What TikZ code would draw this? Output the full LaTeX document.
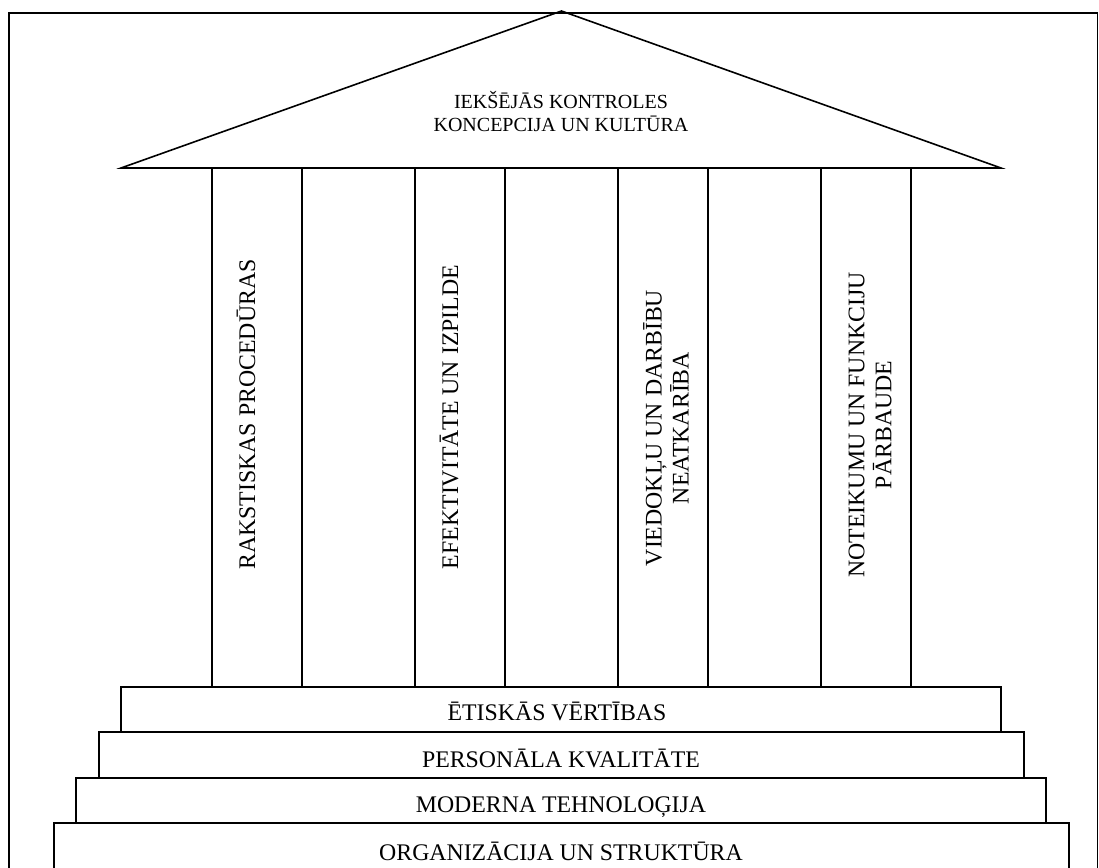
\documentclass[tikz,border=0pt]{standalone}
\usepackage{fontspec}
\setmainfont{Liberation Serif}
\begin{document}
\begin{tikzpicture}[x=1pt,y=-1pt,line width=1.6pt,
  stepbox/.style={draw,rectangle,inner sep=0pt},
  colbox/.style={draw,rectangle,inner sep=0pt,minimum width=90pt,minimum height=519pt},
  bigtext/.style={inner sep=0pt,font=\fontsize{23.8}{27}\selectfont},
  rooftext/.style={inner sep=0pt,align=center,font=\fontsize{20}{23}\selectfont}]
\useasboundingbox (0,0) rectangle (1099,867);
% outer frame
\coordinate (fbl) at (9,900);
\coordinate (ftl) at (9,13);
\coordinate (ftr) at (1097.5,13);
\coordinate (fbr) at (1097.5,900);
\draw (fbl) -- (ftl) -- (ftr) -- (fbr);
% columns
\node[colbox] (c1) at (257,427.5) {};
\node[colbox] (c2) at (460,427.5) {};
\node[colbox] (c3) at (663,427.5) {};
\node[colbox] (c4) at (866,427.5) {};
% roof
\coordinate (rl) at (121,168);
\coordinate (apex) at (561.5,11);
\coordinate (rr) at (1001,168);
\draw[line join=miter] (rl) -- (apex) -- (rr) -- cycle;
\node[rooftext,anchor=base] (rt) at (561,131) {IEKŠĒJĀS KONTROLES\\KONCEPCIJA UN KULTŪRA};
% column texts
\node[bigtext,rotate=90,anchor=base] (ct1) at (255,414.5) {RAKSTISKAS PROCEDŪRAS};
\node[bigtext,rotate=90,anchor=base] (ct2) at (458,417) {EFEKTIVITĀTE UN IZPILDE};
\node[bigtext,rotate=90,align=center] (ct3) at (666,428) {VIEDOKĻU UN DARBĪBU\\NEATKARĪBA};
\node[bigtext,rotate=90,align=center] (ct4) at (870,425) {NOTEIKUMU UN FUNKCIJU\\PĀRBAUDE};
% steps
\node[stepbox,minimum width=880pt,minimum height=45pt] (s1) at (561,709.5) {};
\node[stepbox,minimum width=925pt,minimum height=46pt] (s2) at (561.5,755) {};
\node[stepbox,minimum width=970pt,minimum height=45pt] (s3) at (561,800.5) {};
\node[stepbox,minimum width=1015pt,minimum height=77pt] (s4) at (561.5,861.5) {};
\node[bigtext,anchor=base] (st1) at (557,720) {ĒTISKĀS VĒRTĪBAS};
\node[bigtext,anchor=base] (st2) at (561,767) {PERSONĀLA KVALITĀTE};
\node[bigtext,anchor=base] (st3) at (561,812) {MODERNA TEHNOLOĢIJA};
\node[bigtext,anchor=base] (st4) at (561,860) {ORGANIZĀCIJA UN STRUKTŪRA};
\end{tikzpicture}
\end{document}
